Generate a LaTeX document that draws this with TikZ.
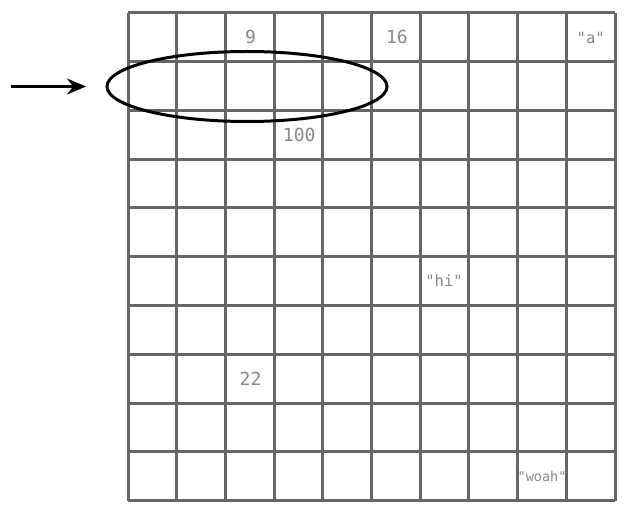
\documentclass[tikz,border=0pt]{standalone}
\usepackage{fontspec}
\newfontfamily\gridmono{DejaVu Sans Mono}
\usetikzlibrary{shapes.geometric,arrows.meta}
\definecolor{gridgray}{HTML}{666666}
\definecolor{textgray}{HTML}{888888}
\tikzset{
  gridline/.style={draw=gridgray, line width=3pt},
  numval/.style={text=textgray, font=\gridmono\fontsize{18}{18}\selectfont, inner sep=0pt},
  strval/.style={text=textgray, font=\gridmono\fontsize{15.5}{15.5}\selectfont, inner sep=0pt},
  smallstr/.style={text=textgray, font=\gridmono\fontsize{13.5}{13.5}\selectfont, inner sep=0pt},
  selring/.style={ellipse, draw=black, line width=3pt, minimum width=280pt, minimum height=70pt, inner sep=0pt},
  pointer/.style={draw=black, line width=2.6pt, -{Stealth[length=19pt,width=16pt]}}
}
\begin{document}
\begin{tikzpicture}[x=1pt,y=-1pt]
\useasboundingbox (0,0) rectangle (634,513);
\fill[white] (0,0) rectangle (634,513);
% grid
\foreach \i in {0,...,10} {
  \draw[gridline] ({128+48.7*\i},12.7) -- ({128+48.7*\i},500.7);
  \draw[gridline] (128,{12.7+48.8*\i}) -- (615,{12.7+48.8*\i});
}
% values (column c, row r centers: x=128+48.7*(c-0.5), y=12.7+48.8*(r-0.5))
\node[numval] (v9)   at (250.5,37.1) {9};
\node[numval] (v16)  at (396.9,37.1) {16};
\node[strval] (va)   at (590.7,38) {"a"};
\node[numval] (v100) at (299.2,134.7) {100};
\node[strval] (vhi)  at (444,281.1) {"hi"};
\node[numval] (v22)  at (250.5,378.7) {22};
\node[smallstr] (vwoah) at (542,476.3) {"woah"};
% selection ellipse and arrow
\node[selring] (ring) at (247,86.5) {};
\coordinate (arrowtail) at (11,86.5);
\coordinate (arrowhead) at (86,86.5);
\draw[pointer] (arrowtail) -- (arrowhead);
\end{tikzpicture}
\end{document}
